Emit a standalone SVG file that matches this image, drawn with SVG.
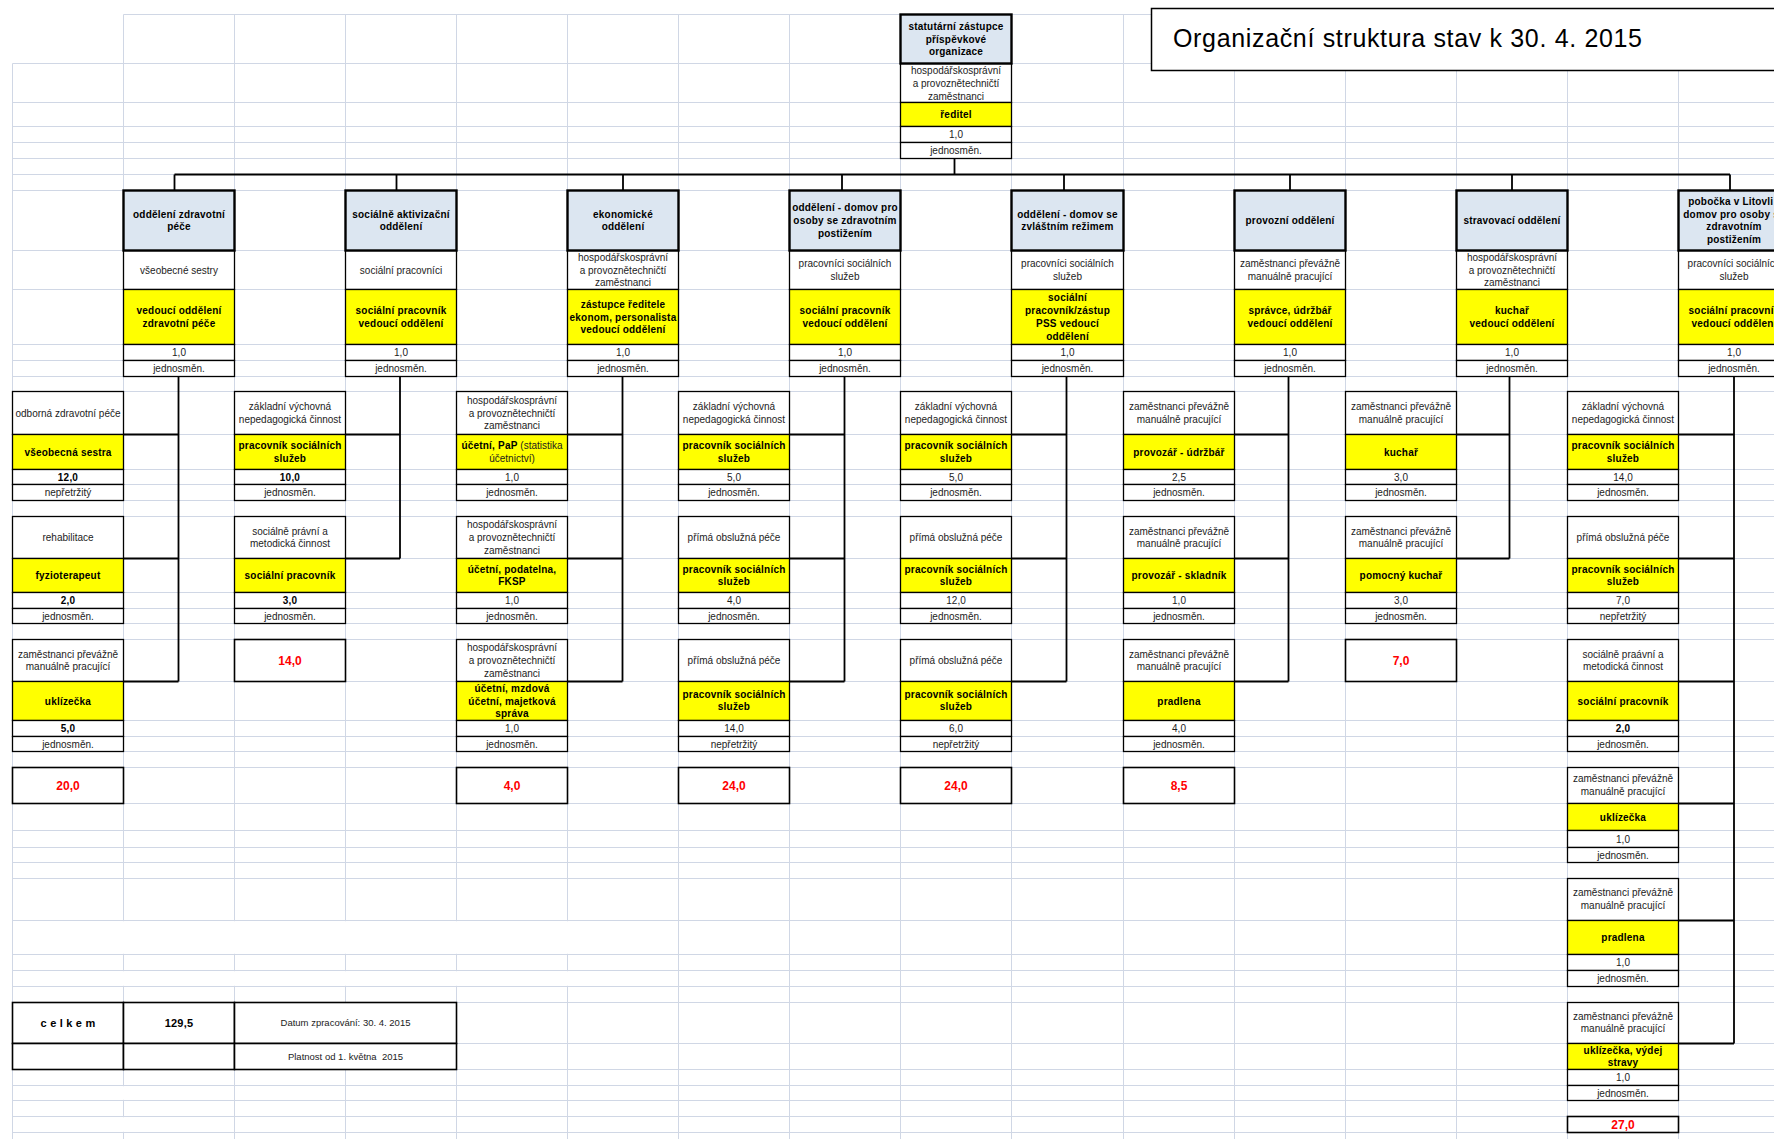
<svg xmlns="http://www.w3.org/2000/svg" width="1774" height="1139" viewBox="0 0 1774 1139">
<style>
.g{stroke:#d0d7e5;stroke-width:1;fill:none}
.c{fill:#fff;stroke:#000;stroke-width:1.3}
.y{fill:#ffff00;stroke:#000;stroke-width:1.3}
.h{fill:#dce6f1;stroke:#000;stroke-width:2.4}
.k{fill:#fff;stroke:#000;stroke-width:1.6}
.cn{stroke:#000;stroke-width:1.8;fill:none}
.t{font-family:"Liberation Sans",Arial,sans-serif;font-size:10px;text-anchor:middle;fill:#1c1c1c}
.b{font-weight:bold;fill:#000;letter-spacing:0.2px}
.r{font-family:"Liberation Sans",Arial,sans-serif;font-size:12px;font-weight:bold;fill:#ff0000;text-anchor:middle}
</style>
<rect width="1774" height="1139" fill="#fff"/>
<g id="grid">
<path class="g" d="M123.5 14.5H1774M12.5 63.5H1774M12.5 102.5H1774M12.5 126.5H1774M12.5 142.5H1774M12.5 158.5H1774M12.5 174.5H1774M12.5 190.5H1774M12.5 250.5H1774M12.5 289.5H1774M12.5 344.5H1774M12.5 360.5H1774M12.5 376.5H1774M12.5 391.5H1774M12.5 434.5H1774M12.5 469.5H1774M12.5 484.5H1774M12.5 500.5H1774M12.5 516.5H1774M12.5 558.5H1774M12.5 592.5H1774M12.5 608.5H1774M12.5 623.5H1774M12.5 639.5H1774M12.5 681.5H1774M12.5 720.5H1774M12.5 736.5H1774M12.5 751.5H1774M12.5 767.5H1774M12.5 803.5H1774M12.5 830.5H1774M12.5 847.5H1774M12.5 862.5H1774M12.5 878.5H1774M12.5 920.5H1774M12.5 954.5H1774M12.5 970.5H1774M12.5 986.5H1774M12.5 1002.5H1774M12.5 1043.5H1774M12.5 1069.5H1774M12.5 1085.5H1774M12.5 1100.5H1774M12.5 1116.5H1774M12.5 1132.5H1774"/>
<path class="g" d="M12.5 63.5V1139M123.5 14.5V1139M234.5 14.5V1139M345.5 14.5V1139M456.5 14.5V1139M567.5 14.5V1139M678.5 14.5V1139M789.5 14.5V1139M900.5 14.5V1139M1011.5 14.5V1139M1123.5 14.5V1139M1234.5 14.5V1139M1345.5 14.5V1139M1456.5 14.5V1139M1567.5 14.5V1139M1678.5 14.5V1139"/>
<rect x="13.2" y="921.2" width="664.6" height="32.6" fill="#fff"/>
<rect x="13.2" y="971.2" width="664.6" height="14.6" fill="#fff"/>
<rect x="13.2" y="1086.2" width="220.6" height="13.6" fill="#fff"/>
<rect x="13.2" y="1117.2" width="220.6" height="14.6" fill="#fff"/>
</g>
<g id="title">
<rect x="1151.5" y="8.5" width="640" height="62" fill="#fff" stroke="#000" stroke-width="1.5"/>
<text x="1173" y="47" font-family="'Liberation Sans',Arial,sans-serif" font-size="25" fill="#000" textLength="469" lengthAdjust="spacing">Organizační struktura stav k 30. 4. 2015</text>
</g>
<g id="connectors">
<path class="cn" d="M954.5 158.5V174.5M174.5 174.5H1730M174.5 174.5V190.5M396.5 174.5V190.5M623 174.5V190.5M842 174.5V190.5M1064 174.5V190.5M1290 174.5V190.5M1512 174.5V190.5M1730 174.5V190.5"/>
<path class="cn" d="M178.5 376.5V681.5M123.5 434.5H178.5M123.5 558.5H178.5M123.5 681.5H178.5"/>
<path class="cn" d="M400 376.5V558.5M345.5 434.5H400M345.5 558.5H400"/>
<path class="cn" d="M622.5 376.5V681.5M567.5 434.5H622.5M567.5 558.5H622.5M567.5 681.5H622.5"/>
<path class="cn" d="M844.5 376.5V681.5M789.5 434.5H844.5M789.5 558.5H844.5M789.5 681.5H844.5"/>
<path class="cn" d="M1066.5 376.5V681.5M1011.5 434.5H1066.5M1011.5 558.5H1066.5M1011.5 681.5H1066.5"/>
<path class="cn" d="M1288.5 376.5V681.5M1234.5 434.5H1288.5M1234.5 558.5H1288.5M1234.5 681.5H1288.5"/>
<path class="cn" d="M1509.5 376.5V558.5M1456.5 434.5H1509.5M1456.5 558.5H1509.5"/>
<path class="cn" d="M1734 376.5V1043.5M1678.5 434.5H1734M1678.5 558.5H1734M1678.5 681.5H1734M1678.5 803.5H1734M1678.5 920.5H1734M1678.5 1043.5H1734"/>
</g>
<g id="n-top">
<rect class="c" x="900.5" y="63.5" width="111" height="39"/>
<rect class="y" x="900.5" y="102.5" width="111" height="24"/>
<rect class="c" x="900.5" y="126.5" width="111" height="16"/>
<rect class="c" x="900.5" y="142.5" width="111" height="16"/>
<rect class="h" x="900.5" y="14.5" width="111" height="49"/>
<text class="t b" x="956" y="29.7">statutární zástupce</text>
<text class="t b" x="956" y="42.5">příspěvkové</text>
<text class="t b" x="956" y="55.3">organizace</text>
<text class="t" x="956" y="74">hospodářskosprávní</text>
<text class="t" x="956" y="87">a provoznětechničtí</text>
<text class="t" x="956" y="100">zaměstnanci</text>
<text class="t b" x="956" y="118">ředitel</text>
<text class="t" x="956" y="138">1,0</text>
<text class="t" x="956" y="154">jednosměn.</text>
</g>
<g id="d1">
<rect class="c" x="123.5" y="250.5" width="111" height="39"/>
<rect class="y" x="123.5" y="289.5" width="111" height="55"/>
<rect class="c" x="123.5" y="344.5" width="111" height="16"/>
<rect class="c" x="123.5" y="360.5" width="111" height="16"/>
<rect class="h" x="123.5" y="190.5" width="111" height="60"/>
<text class="t b" x="179" y="217.6">oddělení zdravotní</text>
<text class="t b" x="179" y="230.4">péče</text>
<text class="t" x="179" y="273.5">všeobecné sestry</text>
<text class="t b" x="179" y="314.1">vedoucí oddělení</text>
<text class="t b" x="179" y="326.9">zdravotní péče</text>
<text class="t" x="179" y="356">1,0</text>
<text class="t" x="179" y="372">jednosměn.</text>
</g>
<g id="d2">
<rect class="c" x="345.5" y="250.5" width="111" height="39"/>
<rect class="y" x="345.5" y="289.5" width="111" height="55"/>
<rect class="c" x="345.5" y="344.5" width="111" height="16"/>
<rect class="c" x="345.5" y="360.5" width="111" height="16"/>
<rect class="h" x="345.5" y="190.5" width="111" height="60"/>
<text class="t b" x="401" y="217.6">sociálně aktivizační</text>
<text class="t b" x="401" y="230.4">oddělení</text>
<text class="t" x="401" y="273.5">sociální pracovníci</text>
<text class="t b" x="401" y="314.1">sociální pracovník</text>
<text class="t b" x="401" y="326.9">vedoucí oddělení</text>
<text class="t" x="401" y="356">1,0</text>
<text class="t" x="401" y="372">jednosměn.</text>
</g>
<g id="d3">
<rect class="c" x="567.5" y="250.5" width="111" height="39"/>
<rect class="y" x="567.5" y="289.5" width="111" height="55"/>
<rect class="c" x="567.5" y="344.5" width="111" height="16"/>
<rect class="c" x="567.5" y="360.5" width="111" height="16"/>
<rect class="h" x="567.5" y="190.5" width="111" height="60"/>
<text class="t b" x="623" y="217.6">ekonomické</text>
<text class="t b" x="623" y="230.4">oddělení</text>
<text class="t" x="623" y="260.7">hospodářskosprávní</text>
<text class="t" x="623" y="273.5">a provoznětechničtí</text>
<text class="t" x="623" y="286.3">zaměstnanci</text>
<text class="t b" x="623" y="307.7">zástupce ředitele</text>
<text class="t b" x="623" y="320.5">ekonom, personalista</text>
<text class="t b" x="623" y="333.3">vedoucí oddělení</text>
<text class="t" x="623" y="356">1,0</text>
<text class="t" x="623" y="372">jednosměn.</text>
</g>
<g id="d4">
<rect class="c" x="789.5" y="250.5" width="111" height="39"/>
<rect class="y" x="789.5" y="289.5" width="111" height="55"/>
<rect class="c" x="789.5" y="344.5" width="111" height="16"/>
<rect class="c" x="789.5" y="360.5" width="111" height="16"/>
<rect class="h" x="789.5" y="190.5" width="111" height="60"/>
<text class="t b" x="845" y="211.2">oddělení - domov pro</text>
<text class="t b" x="845" y="224">osoby se zdravotním</text>
<text class="t b" x="845" y="236.8">postižením</text>
<text class="t" x="845" y="267.1">pracovníci sociálních</text>
<text class="t" x="845" y="279.9">služeb</text>
<text class="t b" x="845" y="314.1">sociální pracovník</text>
<text class="t b" x="845" y="326.9">vedoucí oddělení</text>
<text class="t" x="845" y="356">1,0</text>
<text class="t" x="845" y="372">jednosměn.</text>
</g>
<g id="d5">
<rect class="c" x="1011.5" y="250.5" width="112" height="39"/>
<rect class="y" x="1011.5" y="289.5" width="112" height="55"/>
<rect class="c" x="1011.5" y="344.5" width="112" height="16"/>
<rect class="c" x="1011.5" y="360.5" width="112" height="16"/>
<rect class="h" x="1011.5" y="190.5" width="112" height="60"/>
<text class="t b" x="1067.5" y="217.6">oddělení - domov se</text>
<text class="t b" x="1067.5" y="230.4">zvláštním režimem</text>
<text class="t" x="1067.5" y="267.1">pracovníci sociálních</text>
<text class="t" x="1067.5" y="279.9">služeb</text>
<text class="t b" x="1067.5" y="301.3">sociální</text>
<text class="t b" x="1067.5" y="314.1">pracovník/zástup</text>
<text class="t b" x="1067.5" y="326.9">PSS vedoucí</text>
<text class="t b" x="1067.5" y="339.7">oddělení</text>
<text class="t" x="1067.5" y="356">1,0</text>
<text class="t" x="1067.5" y="372">jednosměn.</text>
</g>
<g id="d6">
<rect class="c" x="1234.5" y="250.5" width="111" height="39"/>
<rect class="y" x="1234.5" y="289.5" width="111" height="55"/>
<rect class="c" x="1234.5" y="344.5" width="111" height="16"/>
<rect class="c" x="1234.5" y="360.5" width="111" height="16"/>
<rect class="h" x="1234.5" y="190.5" width="111" height="60"/>
<text class="t b" x="1290" y="224">provozní oddělení</text>
<text class="t" x="1290" y="267.1">zaměstnanci převážně</text>
<text class="t" x="1290" y="279.9">manuálně pracující</text>
<text class="t b" x="1290" y="314.1">správce, údržbář</text>
<text class="t b" x="1290" y="326.9">vedoucí oddělení</text>
<text class="t" x="1290" y="356">1,0</text>
<text class="t" x="1290" y="372">jednosměn.</text>
</g>
<g id="d7">
<rect class="c" x="1456.5" y="250.5" width="111" height="39"/>
<rect class="y" x="1456.5" y="289.5" width="111" height="55"/>
<rect class="c" x="1456.5" y="344.5" width="111" height="16"/>
<rect class="c" x="1456.5" y="360.5" width="111" height="16"/>
<rect class="h" x="1456.5" y="190.5" width="111" height="60"/>
<text class="t b" x="1512" y="224">stravovací oddělení</text>
<text class="t" x="1512" y="260.7">hospodářskosprávní</text>
<text class="t" x="1512" y="273.5">a provoznětechničtí</text>
<text class="t" x="1512" y="286.3">zaměstnanci</text>
<text class="t b" x="1512" y="314.1">kuchař</text>
<text class="t b" x="1512" y="326.9">vedoucí oddělení</text>
<text class="t" x="1512" y="356">1,0</text>
<text class="t" x="1512" y="372">jednosměn.</text>
</g>
<g id="d8">
<rect class="c" x="1678.5" y="250.5" width="111" height="39"/>
<rect class="y" x="1678.5" y="289.5" width="111" height="55"/>
<rect class="c" x="1678.5" y="344.5" width="111" height="16"/>
<rect class="c" x="1678.5" y="360.5" width="111" height="16"/>
<rect class="h" x="1678.5" y="190.5" width="111" height="60"/>
<text class="t b" x="1734" y="205.3">pobočka v Litovli -</text>
<text class="t b" x="1734" y="217.8">domov pro osoby se</text>
<text class="t b" x="1734" y="230.3">zdravotním</text>
<text class="t b" x="1734" y="242.8">postižením</text>
<text class="t" x="1734" y="267.1">pracovníci sociálních</text>
<text class="t" x="1734" y="279.9">služeb</text>
<text class="t b" x="1734" y="314.1">sociální pracovník</text>
<text class="t b" x="1734" y="326.9">vedoucí oddělení</text>
<text class="t" x="1734" y="356">1,0</text>
<text class="t" x="1734" y="372">jednosměn.</text>
</g>
<g id="s-zdravotni">
<rect class="c" x="12.5" y="391.5" width="111" height="43"/>
<rect class="y" x="12.5" y="434.5" width="111" height="35"/>
<rect class="c" x="12.5" y="469.5" width="111" height="15"/>
<rect class="c" x="12.5" y="484.5" width="111" height="16"/>
<text class="t" x="68" y="416.5">odborná zdravotní péče</text>
<text class="t b" x="68" y="455.5">všeobecná sestra</text>
<text class="t b" x="68" y="480.5">12,0</text>
<text class="t" x="68" y="496">nepřetržitý</text>
<rect class="c" x="12.5" y="516.5" width="111" height="42"/>
<rect class="y" x="12.5" y="558.5" width="111" height="34"/>
<rect class="c" x="12.5" y="592.5" width="111" height="16"/>
<rect class="c" x="12.5" y="608.5" width="111" height="15"/>
<text class="t" x="68" y="541">rehabilitace</text>
<text class="t b" x="68" y="579">fyzioterapeut</text>
<text class="t b" x="68" y="604">2,0</text>
<text class="t" x="68" y="619.5">jednosměn.</text>
<rect class="c" x="12.5" y="639.5" width="111" height="42"/>
<rect class="y" x="12.5" y="681.5" width="111" height="39"/>
<rect class="c" x="12.5" y="720.5" width="111" height="16"/>
<rect class="c" x="12.5" y="736.5" width="111" height="15"/>
<text class="t" x="68" y="657.6">zaměstnanci převážně</text>
<text class="t" x="68" y="670.4">manuálně pracující</text>
<text class="t b" x="68" y="704.5">uklízečka</text>
<text class="t b" x="68" y="732">5,0</text>
<text class="t" x="68" y="747.5">jednosměn.</text>
<rect class="k" x="12.5" y="767.5" width="111" height="36"/>
<text class="r" x="68" y="789.8">20,0</text>
</g>
<g id="s-aktivizacni">
<rect class="c" x="234.5" y="391.5" width="111" height="43"/>
<rect class="y" x="234.5" y="434.5" width="111" height="35"/>
<rect class="c" x="234.5" y="469.5" width="111" height="15"/>
<rect class="c" x="234.5" y="484.5" width="111" height="16"/>
<text class="t" x="290" y="410.1">základní výchovná</text>
<text class="t" x="290" y="422.9">nepedagogická činnost</text>
<text class="t b" x="290" y="449.1">pracovník sociálních</text>
<text class="t b" x="290" y="461.9">služeb</text>
<text class="t b" x="290" y="480.5">10,0</text>
<text class="t" x="290" y="496">jednosměn.</text>
<rect class="c" x="234.5" y="516.5" width="111" height="42"/>
<rect class="y" x="234.5" y="558.5" width="111" height="34"/>
<rect class="c" x="234.5" y="592.5" width="111" height="16"/>
<rect class="c" x="234.5" y="608.5" width="111" height="15"/>
<text class="t" x="290" y="534.6">sociálně právní a</text>
<text class="t" x="290" y="547.4">metodická činnost</text>
<text class="t b" x="290" y="579">sociální pracovník</text>
<text class="t b" x="290" y="604">3,0</text>
<text class="t" x="290" y="619.5">jednosměn.</text>
<rect class="k" x="234.5" y="639.5" width="111" height="42"/>
<text class="r" x="290" y="664.8">14,0</text>
</g>
<g id="s-ekonomicke">
<rect class="c" x="456.5" y="391.5" width="111" height="43"/>
<rect class="y" x="456.5" y="434.5" width="111" height="35"/>
<rect class="c" x="456.5" y="469.5" width="111" height="15"/>
<rect class="c" x="456.5" y="484.5" width="111" height="16"/>
<text class="t" x="512" y="403.7">hospodářskosprávní</text>
<text class="t" x="512" y="416.5">a provoznětechničtí</text>
<text class="t" x="512" y="429.3">zaměstnanci</text>
<text class="t" x="512" y="449.1"><tspan class="b">účetní, PaP</tspan> (statistika</text>
<text class="t" x="512" y="461.9">účetnictví)</text>
<text class="t" x="512" y="480.5">1,0</text>
<text class="t" x="512" y="496">jednosměn.</text>
<rect class="c" x="456.5" y="516.5" width="111" height="42"/>
<rect class="y" x="456.5" y="558.5" width="111" height="34"/>
<rect class="c" x="456.5" y="592.5" width="111" height="16"/>
<rect class="c" x="456.5" y="608.5" width="111" height="15"/>
<text class="t" x="512" y="528.2">hospodářskosprávní</text>
<text class="t" x="512" y="541">a provoznětechničtí</text>
<text class="t" x="512" y="553.8">zaměstnanci</text>
<text class="t b" x="512" y="572.6">účetní, podatelna,</text>
<text class="t b" x="512" y="585.4">FKSP</text>
<text class="t" x="512" y="604">1,0</text>
<text class="t" x="512" y="619.5">jednosměn.</text>
<rect class="c" x="456.5" y="639.5" width="111" height="42"/>
<rect class="y" x="456.5" y="681.5" width="111" height="39"/>
<rect class="c" x="456.5" y="720.5" width="111" height="16"/>
<rect class="c" x="456.5" y="736.5" width="111" height="15"/>
<text class="t" x="512" y="651.2">hospodářskosprávní</text>
<text class="t" x="512" y="664">a provoznětechničtí</text>
<text class="t" x="512" y="676.8">zaměstnanci</text>
<text class="t b" x="512" y="691.7">účetní, mzdová</text>
<text class="t b" x="512" y="704.5">účetní, majetková</text>
<text class="t b" x="512" y="717.3">správa</text>
<text class="t" x="512" y="732">1,0</text>
<text class="t" x="512" y="747.5">jednosměn.</text>
<rect class="k" x="456.5" y="767.5" width="111" height="36"/>
<text class="r" x="512" y="789.8">4,0</text>
</g>
<g id="s-domov-zp">
<rect class="c" x="678.5" y="391.5" width="111" height="43"/>
<rect class="y" x="678.5" y="434.5" width="111" height="35"/>
<rect class="c" x="678.5" y="469.5" width="111" height="15"/>
<rect class="c" x="678.5" y="484.5" width="111" height="16"/>
<text class="t" x="734" y="410.1">základní výchovná</text>
<text class="t" x="734" y="422.9">nepedagogická činnost</text>
<text class="t b" x="734" y="449.1">pracovník sociálních</text>
<text class="t b" x="734" y="461.9">služeb</text>
<text class="t" x="734" y="480.5">5,0</text>
<text class="t" x="734" y="496">jednosměn.</text>
<rect class="c" x="678.5" y="516.5" width="111" height="42"/>
<rect class="y" x="678.5" y="558.5" width="111" height="34"/>
<rect class="c" x="678.5" y="592.5" width="111" height="16"/>
<rect class="c" x="678.5" y="608.5" width="111" height="15"/>
<text class="t" x="734" y="541">přímá obslužná péče</text>
<text class="t b" x="734" y="572.6">pracovník sociálních</text>
<text class="t b" x="734" y="585.4">služeb</text>
<text class="t" x="734" y="604">4,0</text>
<text class="t" x="734" y="619.5">jednosměn.</text>
<rect class="c" x="678.5" y="639.5" width="111" height="42"/>
<rect class="y" x="678.5" y="681.5" width="111" height="39"/>
<rect class="c" x="678.5" y="720.5" width="111" height="16"/>
<rect class="c" x="678.5" y="736.5" width="111" height="15"/>
<text class="t" x="734" y="664">přímá obslužná péče</text>
<text class="t b" x="734" y="697.6">pracovník sociálních</text>
<text class="t b" x="734" y="710.4">služeb</text>
<text class="t" x="734" y="732">14,0</text>
<text class="t" x="734" y="747.5">nepřetržitý</text>
<rect class="k" x="678.5" y="767.5" width="111" height="36"/>
<text class="r" x="734" y="789.8">24,0</text>
</g>
<g id="s-domov-zr">
<rect class="c" x="900.5" y="391.5" width="111" height="43"/>
<rect class="y" x="900.5" y="434.5" width="111" height="35"/>
<rect class="c" x="900.5" y="469.5" width="111" height="15"/>
<rect class="c" x="900.5" y="484.5" width="111" height="16"/>
<text class="t" x="956" y="410.1">základní výchovná</text>
<text class="t" x="956" y="422.9">nepedagogická činnost</text>
<text class="t b" x="956" y="449.1">pracovník sociálních</text>
<text class="t b" x="956" y="461.9">služeb</text>
<text class="t" x="956" y="480.5">5,0</text>
<text class="t" x="956" y="496">jednosměn.</text>
<rect class="c" x="900.5" y="516.5" width="111" height="42"/>
<rect class="y" x="900.5" y="558.5" width="111" height="34"/>
<rect class="c" x="900.5" y="592.5" width="111" height="16"/>
<rect class="c" x="900.5" y="608.5" width="111" height="15"/>
<text class="t" x="956" y="541">přímá obslužná péče</text>
<text class="t b" x="956" y="572.6">pracovník sociálních</text>
<text class="t b" x="956" y="585.4">služeb</text>
<text class="t" x="956" y="604">12,0</text>
<text class="t" x="956" y="619.5">jednosměn.</text>
<rect class="c" x="900.5" y="639.5" width="111" height="42"/>
<rect class="y" x="900.5" y="681.5" width="111" height="39"/>
<rect class="c" x="900.5" y="720.5" width="111" height="16"/>
<rect class="c" x="900.5" y="736.5" width="111" height="15"/>
<text class="t" x="956" y="664">přímá obslužná péče</text>
<text class="t b" x="956" y="697.6">pracovník sociálních</text>
<text class="t b" x="956" y="710.4">služeb</text>
<text class="t" x="956" y="732">6,0</text>
<text class="t" x="956" y="747.5">nepřetržitý</text>
<rect class="k" x="900.5" y="767.5" width="111" height="36"/>
<text class="r" x="956" y="789.8">24,0</text>
</g>
<g id="s-provozni">
<rect class="c" x="1123.5" y="391.5" width="111" height="43"/>
<rect class="y" x="1123.5" y="434.5" width="111" height="35"/>
<rect class="c" x="1123.5" y="469.5" width="111" height="15"/>
<rect class="c" x="1123.5" y="484.5" width="111" height="16"/>
<text class="t" x="1179" y="410.1">zaměstnanci převážně</text>
<text class="t" x="1179" y="422.9">manuálně pracující</text>
<text class="t b" x="1179" y="455.5">provozář - údržbář</text>
<text class="t" x="1179" y="480.5">2,5</text>
<text class="t" x="1179" y="496">jednosměn.</text>
<rect class="c" x="1123.5" y="516.5" width="111" height="42"/>
<rect class="y" x="1123.5" y="558.5" width="111" height="34"/>
<rect class="c" x="1123.5" y="592.5" width="111" height="16"/>
<rect class="c" x="1123.5" y="608.5" width="111" height="15"/>
<text class="t" x="1179" y="534.6">zaměstnanci převážně</text>
<text class="t" x="1179" y="547.4">manuálně pracující</text>
<text class="t b" x="1179" y="579">provozář - skladník</text>
<text class="t" x="1179" y="604">1,0</text>
<text class="t" x="1179" y="619.5">jednosměn.</text>
<rect class="c" x="1123.5" y="639.5" width="111" height="42"/>
<rect class="y" x="1123.5" y="681.5" width="111" height="39"/>
<rect class="c" x="1123.5" y="720.5" width="111" height="16"/>
<rect class="c" x="1123.5" y="736.5" width="111" height="15"/>
<text class="t" x="1179" y="657.6">zaměstnanci převážně</text>
<text class="t" x="1179" y="670.4">manuálně pracující</text>
<text class="t b" x="1179" y="704.5">pradlena</text>
<text class="t" x="1179" y="732">4,0</text>
<text class="t" x="1179" y="747.5">jednosměn.</text>
<rect class="k" x="1123.5" y="767.5" width="111" height="36"/>
<text class="r" x="1179" y="789.8">8,5</text>
</g>
<g id="s-stravovaci">
<rect class="c" x="1345.5" y="391.5" width="111" height="43"/>
<rect class="y" x="1345.5" y="434.5" width="111" height="35"/>
<rect class="c" x="1345.5" y="469.5" width="111" height="15"/>
<rect class="c" x="1345.5" y="484.5" width="111" height="16"/>
<text class="t" x="1401" y="410.1">zaměstnanci převážně</text>
<text class="t" x="1401" y="422.9">manuálně pracující</text>
<text class="t b" x="1401" y="455.5">kuchař</text>
<text class="t" x="1401" y="480.5">3,0</text>
<text class="t" x="1401" y="496">jednosměn.</text>
<rect class="c" x="1345.5" y="516.5" width="111" height="42"/>
<rect class="y" x="1345.5" y="558.5" width="111" height="34"/>
<rect class="c" x="1345.5" y="592.5" width="111" height="16"/>
<rect class="c" x="1345.5" y="608.5" width="111" height="15"/>
<text class="t" x="1401" y="534.6">zaměstnanci převážně</text>
<text class="t" x="1401" y="547.4">manuálně pracující</text>
<text class="t b" x="1401" y="579">pomocný kuchař</text>
<text class="t" x="1401" y="604">3,0</text>
<text class="t" x="1401" y="619.5">jednosměn.</text>
<rect class="k" x="1345.5" y="639.5" width="111" height="42"/>
<text class="r" x="1401" y="664.8">7,0</text>
</g>
<g id="s-litovel">
<rect class="c" x="1567.5" y="391.5" width="111" height="43"/>
<rect class="y" x="1567.5" y="434.5" width="111" height="35"/>
<rect class="c" x="1567.5" y="469.5" width="111" height="15"/>
<rect class="c" x="1567.5" y="484.5" width="111" height="16"/>
<text class="t" x="1623" y="410.1">základní výchovná</text>
<text class="t" x="1623" y="422.9">nepedagogická činnost</text>
<text class="t b" x="1623" y="449.1">pracovník sociálních</text>
<text class="t b" x="1623" y="461.9">služeb</text>
<text class="t" x="1623" y="480.5">14,0</text>
<text class="t" x="1623" y="496">jednosměn.</text>
<rect class="c" x="1567.5" y="516.5" width="111" height="42"/>
<rect class="y" x="1567.5" y="558.5" width="111" height="34"/>
<rect class="c" x="1567.5" y="592.5" width="111" height="16"/>
<rect class="c" x="1567.5" y="608.5" width="111" height="15"/>
<text class="t" x="1623" y="541">přímá obslužná péče</text>
<text class="t b" x="1623" y="572.6">pracovník sociálních</text>
<text class="t b" x="1623" y="585.4">služeb</text>
<text class="t" x="1623" y="604">7,0</text>
<text class="t" x="1623" y="619.5">nepřetržitý</text>
<rect class="c" x="1567.5" y="639.5" width="111" height="42"/>
<rect class="y" x="1567.5" y="681.5" width="111" height="39"/>
<rect class="c" x="1567.5" y="720.5" width="111" height="16"/>
<rect class="c" x="1567.5" y="736.5" width="111" height="15"/>
<text class="t" x="1623" y="657.6">sociálně praávní a</text>
<text class="t" x="1623" y="670.4">metodická činnost</text>
<text class="t b" x="1623" y="704.5">sociální pracovník</text>
<text class="t b" x="1623" y="732">2,0</text>
<text class="t" x="1623" y="747.5">jednosměn.</text>
<rect class="c" x="1567.5" y="767.5" width="111" height="36"/>
<rect class="y" x="1567.5" y="803.5" width="111" height="27"/>
<rect class="c" x="1567.5" y="830.5" width="111" height="17"/>
<rect class="c" x="1567.5" y="847.5" width="111" height="15"/>
<text class="t" x="1623" y="782.1">zaměstnanci převážně</text>
<text class="t" x="1623" y="794.9">manuálně pracující</text>
<text class="t b" x="1623" y="820.5">uklízečka</text>
<text class="t" x="1623" y="842.5">1,0</text>
<text class="t" x="1623" y="858.5">jednosměn.</text>
<rect class="c" x="1567.5" y="878.5" width="111" height="42"/>
<rect class="y" x="1567.5" y="920.5" width="111" height="34"/>
<rect class="c" x="1567.5" y="954.5" width="111" height="16"/>
<rect class="c" x="1567.5" y="970.5" width="111" height="16"/>
<text class="t" x="1623" y="896.1">zaměstnanci převážně</text>
<text class="t" x="1623" y="908.9">manuálně pracující</text>
<text class="t b" x="1623" y="941">pradlena</text>
<text class="t" x="1623" y="966">1,0</text>
<text class="t" x="1623" y="982">jednosměn.</text>
<rect class="c" x="1567.5" y="1002.5" width="111" height="41"/>
<rect class="y" x="1567.5" y="1043.5" width="111" height="26"/>
<rect class="c" x="1567.5" y="1069.5" width="111" height="16"/>
<rect class="c" x="1567.5" y="1085.5" width="111" height="15"/>
<text class="t" x="1623" y="1019.6">zaměstnanci převážně</text>
<text class="t" x="1623" y="1032.4">manuálně pracující</text>
<text class="t b" x="1623" y="1053.7">uklízečka, výdej</text>
<text class="t b" x="1623" y="1066.3">stravy</text>
<text class="t" x="1623" y="1081">1,0</text>
<text class="t" x="1623" y="1096.5">jednosměn.</text>
<rect class="k" x="1567.5" y="1116.5" width="111" height="16"/>
<text class="r" x="1623" y="1128.8">27,0</text>
</g>
<g id="summary">
<rect class="k" x="12.5" y="1002.5" width="111" height="41"/>
<rect class="k" x="123.5" y="1002.5" width="111" height="41"/>
<rect class="k" x="234.5" y="1002.5" width="222" height="41"/>
<rect class="k" x="12.5" y="1043.5" width="111" height="26"/>
<rect class="k" x="123.5" y="1043.5" width="111" height="26"/>
<rect class="k" x="234.5" y="1043.5" width="222" height="26"/>
<text class="t b" x="68" y="1027" style="font-size:11px">c e l k e m</text>
<text class="t b" x="179" y="1027" style="font-size:11px">129,5</text>
<text class="t" x="345.5" y="1026" style="font-size:9.5px">Datum zpracování: 30. 4. 2015</text>
<text class="t" x="345.5" y="1060" style="font-size:9.5px;white-space:pre" xml:space="preserve">Platnost od 1. května  2015</text>
</g>
</svg>
